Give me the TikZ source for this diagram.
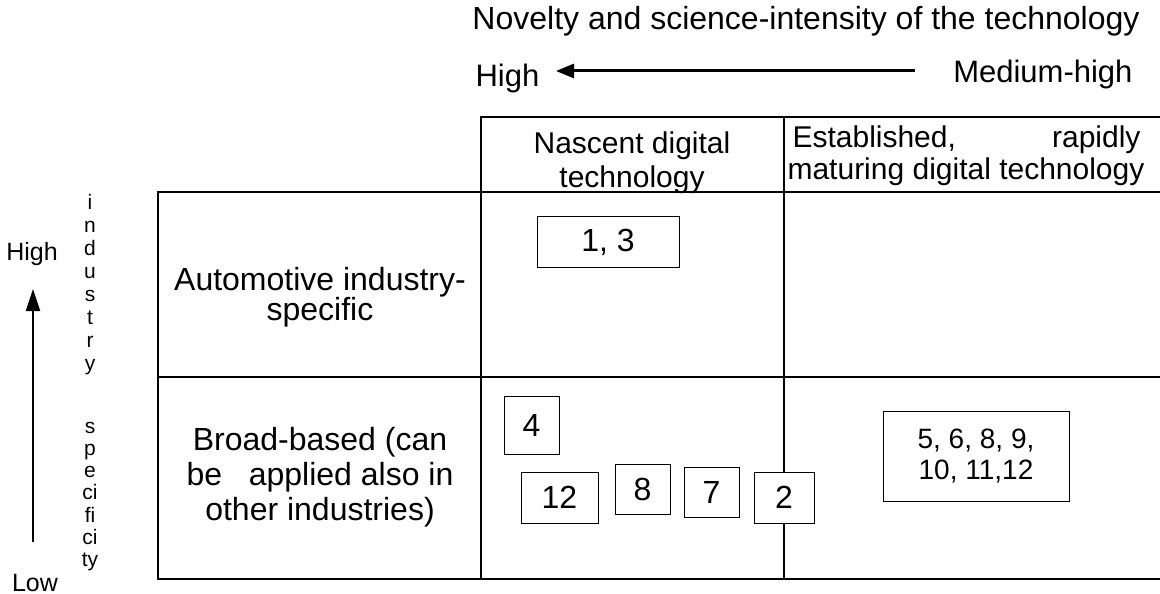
\documentclass[tikz,border=0pt]{standalone}
\usepackage{fontspec}
\setmainfont{Liberation Sans}
\usetikzlibrary{arrows.meta}
\begin{document}
\begin{tikzpicture}[x=1pt,y=-1pt,
  grid/.style={line width=2pt},
  numbox/.style={draw,line width=1pt,fill=white,inner sep=0pt},
  headtext/.style={align=center,font=\fontsize{30}{34}\selectfont},
  rowtext/.style={align=center,font=\fontsize{32}{35}\selectfont},
  nums/.style={font=\fontsize{32}{36}\selectfont},
  axislabel/.style={font=\fontsize{25}{30}\selectfont},
  vletter/.style={font=\fontsize{21}{24}\selectfont,anchor=base}]
\useasboundingbox (0,0) rectangle (1160,594);

% axis title and horizontal scale
\node[anchor=base,font=\fontsize{32}{38}\selectfont] (title) at (806,30) {Novelty and science-intensity of the technology};
\node[anchor=base west,font=\fontsize{31}{36}\selectfont] (hhigh) at (472,87) {High};
\node[anchor=base east,font=\fontsize{31}{36}\selectfont] (hmed) at (1136,83) {Medium-high};
\coordinate (harrS) at (915,71);
\coordinate (harrE) at (556,71);
\draw[line width=3pt,-{Triangle[width=14pt,length=18pt]}] (harrS) -- (harrE);

% table rules
\draw[grid] (481,117) -- (1162,117);
\draw[grid] (157,192) -- (1162,192);
\draw[grid] (157,377) -- (1162,377);
\draw[grid] (157,579) -- (1162,579);
\draw[grid] (158,191) -- (158,580);
\draw[grid] (481,116) -- (481,580);
\draw[grid] (784,116) -- (784,580);

% column headers
\node[headtext] (colA) at (632,163) {Nascent digital\\technology};
\node[anchor=base west,font=\fontsize{30}{33}\selectfont] (colB1) at (789,147) {Established,};
\node[anchor=base east,font=\fontsize{30}{33}\selectfont] (colB2) at (1144,147) {rapidly};
\node[anchor=base,font=\fontsize{30}{33}\selectfont] (colB3) at (966,179) {maturing digital technology};

% row headers
\node[rowtext,font=\fontsize{32}{30}\selectfont] (rowA) at (320,297) {Automotive industry-\\specific};
\node[rowtext] (rowB) at (320,477) {Broad-based (can\\be\ \ \ applied also in\\other industries)};

% technology boxes
\node[numbox,minimum width=142pt,minimum height=51pt,nums] (b13) at (608,242) {1, 3};
\node[numbox,minimum width=55pt,minimum height=58pt,nums] (b4) at (531.5,425) {4};
\node[numbox,minimum width=77pt,minimum height=51pt,nums] (b12) at (559.5,497.5) {12};
\node[numbox,minimum width=55pt,minimum height=50pt,nums] (b8) at (642.5,489) {8};
\node[numbox,minimum width=55pt,minimum height=50pt,nums] (b7) at (711.5,492) {7};
\node[numbox,minimum width=60pt,minimum height=51pt,nums] (b2) at (784,497.5) {2};
\node[numbox,minimum width=186pt,minimum height=90pt,align=center,font=\fontsize{28}{31}\selectfont] (bmany) at (976,456) {5, 6, 8, 9,\\10, 11,12};

% vertical scale
\node[axislabel,anchor=base] (vhigh) at (32,260) {High};
\node[axislabel,anchor=base] (vlow) at (35,591) {Low};
\coordinate (varrS) at (33,542);
\coordinate (varrE) at (33,289);
\draw[line width=2pt,-{Triangle[width=14pt,length=22pt]}] (varrS) -- (varrE);

% vertical axis title, one letter group per line
\foreach \txt [count=\k from 0] in {i,n,d,u,s,t,r,y} {
  \node[vletter] (vt\k) at (90,{209+23*\k}) {\txt};
}
\foreach \txt [count=\k from 0] in {s,p,e,ci,fi,ci,ty} {
  \node[vletter] (vs\k) at (90,{433+22.3*\k}) {\txt};
}
\end{tikzpicture}
\end{document}
